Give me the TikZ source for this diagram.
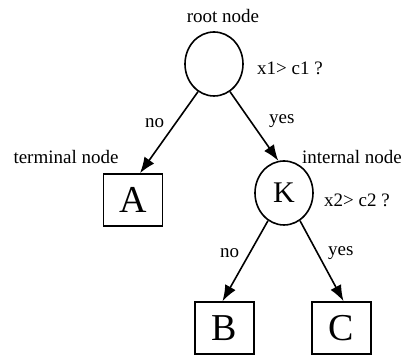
\documentclass[tikz,border=0pt]{standalone}
\usepackage{fontspec}
\setmainfont{Liberation Serif}
\usetikzlibrary{shapes.geometric,arrows.meta}

\begin{document}
\begin{tikzpicture}[x=0.5pt,y=-0.5pt,
    decision/.style={draw, line width=0.8pt, ellipse, minimum width=29pt, minimum height=32pt, inner sep=0pt, font=\fontsize{15}{15}\selectfont},
    leaf/.style={draw, line width=0.8pt, rectangle, minimum width=29.5pt, minimum height=26pt, inner sep=0pt, font=\fontsize{19}{19}\selectfont},
    tag/.style={font=\fontsize{9.5}{10}\selectfont, inner sep=1pt},
    branch/.style={line width=0.8pt, -{Latex[length=8pt,width=6pt]}}]
    \useasboundingbox (0,0) rectangle (404,356);
    \node[decision] (root) at (214,64) {};
    \node[decision] (K) at (284,193) {K};
    \node[leaf] (A) at (133,200) {A};
    \node[leaf] (B) at (224.5,328) {B};
    \node[leaf] (C) at (341.5,328) {C};
    \node[tag] (rootlbl) at (223,16) {root node};
    \node[tag] (q1) at (290,68) {x1> c1 ?};
    \node[tag] (termlbl) at (66,157) {terminal node};
    \node[tag] (intlbl) at (352,157) {internal node};
    \node[tag] (q2) at (357,200) {x2> c2 ?};
    \draw[branch] (root.240) -- ([xshift=3.5pt]A.north) node[tag, pos=0.5, above left=1pt] (no1) {no};
    \draw[branch] (root.300) -- (K.100) node[tag, pos=0.42, right=8pt] (yes1) {yes};
    \draw[branch] (K.240) -- ([xshift=-1pt]B.north) node[tag, pos=0.4, left=4pt] (no2) {no};
    \draw[branch] (K.300) -- ([xshift=1pt]C.north) node[tag, pos=0.4, right=4pt] (yes2) {yes};
\end{tikzpicture}
\end{document}
